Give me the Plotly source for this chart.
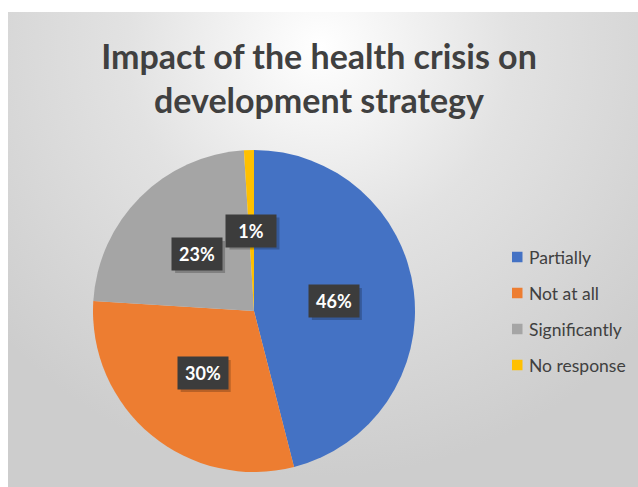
import math
import base64
import plotly.graph_objects as go

# ---- data ----
labels = ["Partially", "Not at all", "Significantly", "No response"]
values = [46, 30, 23, 1]
colors = ["#4472C4", "#ED7D31", "#A5A5A5", "#FFC000"]
title_text = "Impact of the health crisis on<br>development strategy"

# ---- layout geometry (pixels) ----
W, H = 638, 487
cx, cy, r = 254, 311, 161
FONT = "Lato"

fig = go.Figure()

fig.add_trace(go.Pie(
    labels=labels,
    values=values,
    marker=dict(colors=colors, line=dict(width=0)),
    sort=False,
    direction="clockwise",
    rotation=0,
    textinfo="none",
    showlegend=False,
    domain=dict(x=[(cx - r) / W, (cx + r) / W], y=[1 - (cy + r) / H, 1 - (cy - r) / H]),
))

# background radial gradient (chart area)
svg = (
    '<svg xmlns="http://www.w3.org/2000/svg" width="630" height="475" viewBox="0 0 630 475" '
    'preserveAspectRatio="none"><defs><radialGradient id="g" cx="312" cy="35" r="430" '
    'gradientUnits="userSpaceOnUse"><stop offset="0" stop-color="#FFFFFF"/>'
    '<stop offset="0.45" stop-color="#E2E2E2"/><stop offset="1" stop-color="#CDCDCD"/>'
    '</radialGradient></defs><rect width="630" height="475" fill="url(#g)"/></svg>'
)
src = "data:image/svg+xml;base64," + base64.b64encode(svg.encode()).decode()
fig.add_layout_image(dict(
    source=src, xref="paper", yref="paper", x=8 / W, y=1 - 12 / H,
    sizex=630 / W, sizey=475 / H, xanchor="left", yanchor="top",
    sizing="stretch", layer="below",
))

# data labels (dark boxes) placed at half radius along each slice's mid-angle
total = sum(values)
cum = 0
annotations = []
shapes = []
BW, BH = 50, 32
for v in values:
    mid = (cum + v / 2) / total * 2 * math.pi
    cum += v
    px = cx + math.sin(mid) * r * 0.5
    py = cy - math.cos(mid) * r * 0.5
    txt = f"{round(v / total * 100)}%"
    # soft shadow box
    shapes.append(dict(type="rect", xref="paper", yref="paper", layer="above",
                       x0=(px - BW / 2 + 3) / W, x1=(px + BW / 2 + 3) / W,
                       y0=1 - (py + BH / 2 + 3) / H, y1=1 - (py - BH / 2 + 3) / H,
                       fillcolor="rgba(0,0,0,0.22)", line=dict(width=0)))
    annotations.append(dict(x=px / W, y=1 - py / H, xref="paper", yref="paper", showarrow=False,
                            xanchor="center", yanchor="middle",
                            text=txt, width=BW - 10, height=BH - 10, borderpad=5,
                            bgcolor="#3C3C3C",
                            font=dict(family=FONT, size=18, weight="bold", color="#FFFFFF")))

# custom legend
leg_y0, leg_dy = 257, 36
for i, (lab, col) in enumerate(zip(labels, colors)):
    yc = leg_y0 + i * leg_dy
    shapes.append(dict(type="rect", xref="paper", yref="paper",
                       x0=512 / W, x1=522.5 / W, y0=1 - (yc + 5.25) / H, y1=1 - (yc - 5.25) / H,
                       fillcolor=col, line=dict(width=0)))
    annotations.append(dict(x=527 / W, y=1 - yc / H, xref="paper", yref="paper",
                            xanchor="left", yanchor="middle", showarrow=False, text=lab,
                            font=dict(family=FONT, size=17.5, color="#404040")))

fig.update_layout(
    width=W, height=H,
    margin=dict(l=0, r=0, t=0, b=0),
    paper_bgcolor="#FFFFFF",
    plot_bgcolor="rgba(0,0,0,0)",
    title=dict(text=title_text, x=0.5, xanchor="center", y=1 - 69 / H, yanchor="middle",
               font=dict(family=FONT, size=34, weight="bold", color="#404040")),
    annotations=annotations,
    shapes=shapes,
    showlegend=False,
)

fig.write_html("out.html", config={"displayModeBar": False},
               post_script="document.body.style.margin='0';")
